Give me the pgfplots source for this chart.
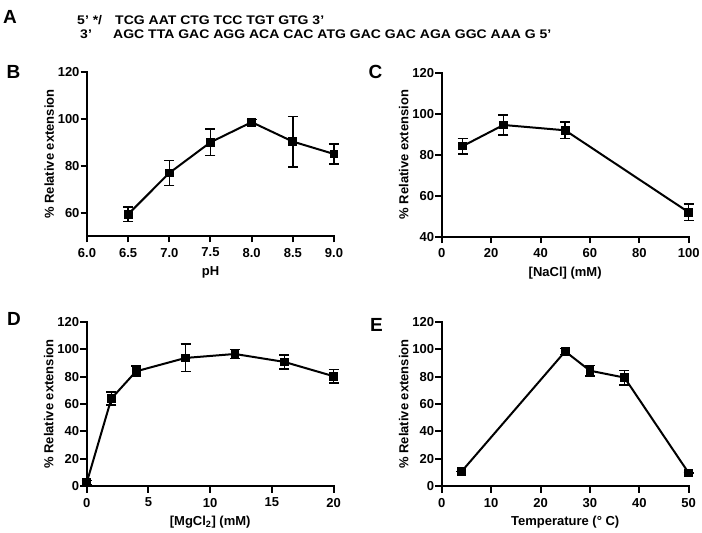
\documentclass[border=0pt]{standalone}
\usepackage{pgfplots}
\pgfplotsset{compat=1.18}
\usepackage{fontspec}
\setmainfont{Liberation Sans}

\newcommand{\lab}{\bfseries\fontsize{13}{14}\selectfont}

\pgfplotsset{
  gp/.style={
    scale only axis, width=247pt, height=164pt,
    anchor=south west, clip=false,
    axis lines*=left,
    axis line style={line width=2pt, line cap=rect},
    tick align=outside, major tick length=6.5pt,
    tick style={line width=2pt, black},
    /pgf/number format/assume math mode=true,
    tick label style={font=\lab},
    xticklabel style={yshift=-2pt},
    yticklabel style={xshift=2.5pt},
    label style={font=\lab},
    xlabel style={yshift=-2pt},
    ylabel style={yshift=-3pt},
    ylabel={\% Relative extension},
  },
  ln/.style={black, line width=2pt, mark=square*, mark size=3.4pt},
  eb/.style={black, only marks, mark=square*, mark size=3.4pt, forget plot,
    error bars/.cd, y dir=both, y explicit,
    error bar style={line width=1.5pt},
    error mark options={rotate=90, mark size=5pt, line width=1.5pt}},
}

% x  y  err
\pgfplotstableread{
x y e
6.5 59.3 3.1
7.0 76.9 5.3
7.5 90.0 5.7
8.0 98.6 1.1
8.5 90.3 10.8
9.0 85.0 4.3
}\ph
\pgfplotstableread{
x y e
8.5 84.2 3.8
25 94.5 4.8
50 91.9 4.1
100 51.9 4.1
}\nacl
\pgfplotstableread{
x y e
0 2.4 1.5
2 64.0 4.7
4 83.9 3.9
8 93.7 10.1
12 96.6 3.4
16 90.8 5.2
20 80.3 5.0
}\mgcl
\pgfplotstableread{
x y e
4 10.5 0
25 98.5 2.2
30 84.4 3.9
37 79.3 5.3
50 9.5 0
}\temp

\begin{document}
\begin{tikzpicture}
\useasboundingbox (0,0) rectangle (702pt,533pt);

% panel A: sequences
\node[anchor=south west, inner sep=0, font=\bfseries\fontsize{19}{20}\selectfont] at (3pt,509pt) {A};
\begin{scope}[every node/.style={anchor=base west, inner sep=0, xscale=1.12, font=\bfseries\fontsize{12.5}{13}\selectfont}]
\node at (77pt,508pt) {5’ */};
\node at (115pt,508pt) {TCG AAT CTG TCC TGT GTG 3’};
\node at (80pt,494pt) {3’};
\node at (113pt,494pt) {AGC TTA GAC AGG ACA CAC ATG GAC GAC AGA GGC AAA G 5’};
\end{scope}

\begin{scope}[every node/.style={font=\bfseries\fontsize{19}{20}\selectfont}]
\node at (13.5pt,461pt) {B};
\node at (375.5pt,461pt) {C};
\node at (14pt,214.5pt) {D};
\node at (376.5pt,208pt) {E};
\end{scope}

% B: pH
\begin{axis}[gp, at={(87pt,297pt)},
  xmin=6, xmax=9, ymin=50, ymax=120,
  xtick={6,6.5,7,7.5,8,8.5,9}, ytick={60,80,100,120},
  xticklabel style={/pgf/number format/.cd, fixed, fixed zerofill, precision=1},
  xlabel={pH}]
\addplot[ln] table[x=x,y=y] {\ph};
\addplot[eb] table[x=x,y=y,y error=e] {\ph};
\end{axis}

% C: NaCl
\begin{axis}[gp, at={(441.7pt,296.3pt)},
  xmin=0, xmax=100, ymin=40, ymax=120,
  xtick={0,20,40,60,80,100}, ytick={40,60,80,100,120},
  xlabel={[NaCl] (mM)}]
\addplot[ln] table[x=x,y=y] {\nacl};
\addplot[eb] table[x=x,y=y,y error=e] {\nacl};
\end{axis}

% D: MgCl2
\begin{axis}[gp, at={(86.7pt,47pt)},
  xmin=0, xmax=20, ymin=0, ymax=120,
  xtick={0,5,10,15,20}, ytick={0,20,40,60,80,100,120},
  xlabel={[MgCl\textsubscript{2}] (mM)}]
\addplot[ln] table[x=x,y=y] {\mgcl};
\addplot[eb] table[x=x,y=y,y error=e] {\mgcl};
\end{axis}

% E: temperature
\begin{axis}[gp, at={(441.7pt,47pt)},
  xmin=0, xmax=50, ymin=0, ymax=120,
  xtick={0,10,20,30,40,50}, ytick={0,20,40,60,80,100,120},
  xlabel={Temperature (° C)}]
\addplot[ln] table[x=x,y=y] {\temp};
\addplot[eb] table[x=x,y=y,y error=e] {\temp};
\end{axis}
\end{tikzpicture}
\end{document}
